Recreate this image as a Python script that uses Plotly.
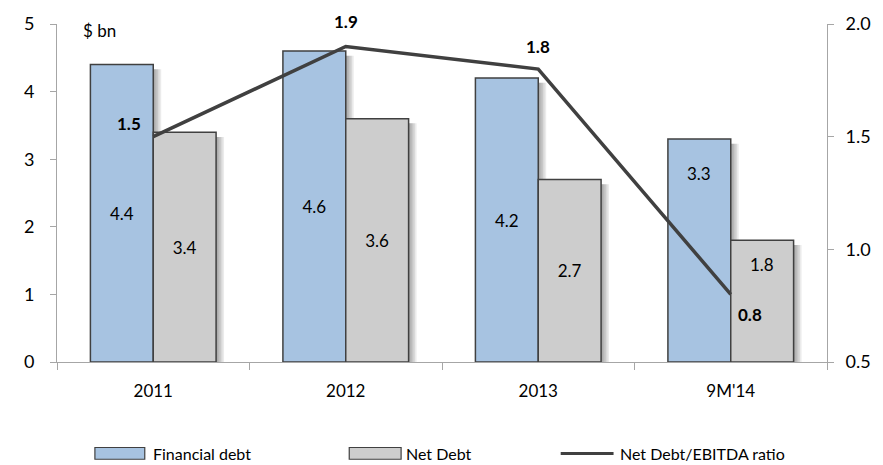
import plotly.graph_objects as go

# Debt figures ($ bn) and leverage ratio by period
periods = ["2011", "2012", "2013", "9M'14"]
financial_debt = [4.4, 4.6, 4.2, 3.3]
net_debt = [3.4, 3.6, 2.7, 1.8]
net_debt_ebitda = [1.5, 1.9, 1.8, 0.8]

left_ticks = [0, 1, 2, 3, 4, 5]
right_ticks = [0.5, 1.0, 1.5, 2.0]

FONT = "Lato, Open Sans, sans-serif"
OUTLINE = "#404040"
BLUE = "#a7c3e1"
GREY = "#cdcdcd"

# numeric positions for the periods; labels come from `periods`
pos = list(range(len(periods)))
boundaries = [p - 0.5 for p in pos] + [pos[-1] + 0.5]

# plot-area geometry (px) used for pixel offsets
PLOT_W = 883 - 57 - 54
PLOT_H = 465 - 18 - 103
CAT_PX = PLOT_W / len(periods)
BAR_W = 63 / CAT_PX          # bar width in period units

fig = go.Figure()

# soft drop shadow behind each bar
for k in range(1, 6):
    dx = (1.6 * k) / CAT_PX
    for vals, off in ((financial_debt, -BAR_W), (net_debt, 0.0)):
        fig.add_trace(go.Bar(
            x=pos, y=[v - 0.07 for v in vals],
            width=BAR_W, offset=off + dx,
            marker=dict(color="rgba(0,0,0,0.08)", line=dict(width=0)),
            showlegend=False, hoverinfo="skip",
        ))

bar_text_fin = [f"{v:.1f}" for v in financial_debt[:-1]] + [""]
bar_text_net = [f"{v:.1f}" for v in net_debt[:-1]] + [""]

fig.add_trace(go.Bar(
    x=pos, y=financial_debt, name="Financial debt",
    width=BAR_W, offset=-BAR_W,
    marker=dict(color=BLUE, line=dict(color=OUTLINE, width=1.5)),
    text=bar_text_fin, textposition="inside", insidetextanchor="middle",
    textfont=dict(size=17, color="#000000", family=FONT),
    showlegend=False,
))
fig.add_trace(go.Bar(
    x=pos, y=net_debt, name="Net Debt",
    width=BAR_W, offset=0.0,
    marker=dict(color=GREY, line=dict(color=OUTLINE, width=1.5)),
    text=bar_text_net, textposition="inside", insidetextanchor="middle",
    textfont=dict(size=17, color="#000000", family=FONT),
    showlegend=False,
))
fig.add_trace(go.Scatter(
    x=pos, y=net_debt_ebitda, name="Net Debt/EBITDA ratio",
    yaxis="y2", mode="lines",
    line=dict(color=OUTLINE, width=3.5),
    showlegend=False,
))


def px_x(px):
    return (px - 57) / PLOT_W


def px_y(py):
    return (465 - 103 - py) / PLOT_H


annotations = [dict(
    text="$ bn", x=px_x(81), y=px_y(25), xref="paper", yref="paper",
    xanchor="left", yanchor="middle", showarrow=False,
    font=dict(size=17, color="#000000"),
)]

# value labels for the last period sit near the top of their bars
half = 63 / 2
annotations.append(dict(
    x=pos[-1], y=financial_debt[-1], xref="x", yref="y",
    text=f"{financial_debt[-1]:.1f}", showarrow=False,
    xshift=-half, yshift=-35, font=dict(size=17, color="#000000"),
))
annotations.append(dict(
    x=pos[-1], y=net_debt[-1], xref="x", yref="y",
    text=f"{net_debt[-1]:.1f}", showarrow=False,
    xshift=half, yshift=-24, font=dict(size=17, color="#000000"),
))

# bold ratio labels next to the line vertices
ratio_shifts = [(-24, 13), (0, 25), (0, 23), (19, -20)]
for p, v, (sx, sy) in zip(pos, net_debt_ebitda, ratio_shifts):
    annotations.append(dict(
        x=p, y=v, xref="x", yref="y2", text=f"<b>{v:.1f}</b>",
        showarrow=False, xshift=sx, yshift=sy,
        font=dict(size=17, color="#000000"),
    ))

# legend drawn below the axis: swatch + label
shapes = []
legend_items = [
    ("rect", BLUE, 95, 145, "Financial debt", 151),
    ("rect", GREY, 350, 402, "Net Debt", 405),
    ("line", OUTLINE, 562, 615, "Net Debt/EBITDA ratio", 619),
]
LEG_Y = 455
for kind, col, x0, x1, label, tx in legend_items:
    if kind == "rect":
        shapes.append(dict(
            type="rect", xref="paper", yref="paper",
            x0=px_x(x0), x1=px_x(x1), y0=px_y(LEG_Y + 6), y1=px_y(LEG_Y - 6),
            fillcolor=col, line=dict(color=OUTLINE, width=1.2),
        ))
    else:
        shapes.append(dict(
            type="line", xref="paper", yref="paper",
            x0=px_x(x0), x1=px_x(x1), y0=px_y(LEG_Y), y1=px_y(LEG_Y),
            line=dict(color=col, width=3),
        ))
    annotations.append(dict(
        text=label, xref="paper", yref="paper",
        x=px_x(tx), y=px_y(LEG_Y),
        xanchor="left", yanchor="middle", showarrow=False,
        font=dict(size=16, color="#000000"),
    ))

fig.update_layout(
    width=883, height=465,
    margin=dict(l=57, r=54, t=18, b=103),
    paper_bgcolor="white", plot_bgcolor="white",
    font=dict(family=FONT, size=17, color="#000000"),
    barmode="overlay",
    showlegend=False,
    xaxis=dict(
        range=[boundaries[0], boundaries[-1]],
        tickvals=pos, ticktext=periods, ticks="",
        showgrid=False, zeroline=False,
        showline=True, linecolor="#a6a6a6", linewidth=1,
        tickfont=dict(size=17), ticklabelstandoff=14,
        minor=dict(tickvals=boundaries, ticks="outside", ticklen=7,
                   tickcolor="#a6a6a6", showgrid=False),
    ),
    yaxis=dict(
        range=[0, 5], tickvals=left_ticks, showgrid=False, zeroline=False,
        showline=True, linecolor="#a6a6a6", linewidth=1,
        ticks="outside", ticklen=6, tickcolor="#a6a6a6",
        tickfont=dict(size=18), ticklabelstandoff=12,
    ),
    yaxis2=dict(
        range=[0.5, 2.0], tickvals=right_ticks, tickformat=".1f",
        overlaying="y", side="right", showgrid=False, zeroline=False,
        showline=True, linecolor="#a6a6a6", linewidth=1,
        ticks="outside", ticklen=6, tickcolor="#a6a6a6",
        tickfont=dict(size=18), ticklabelstandoff=8,
    ),
    annotations=annotations,
    shapes=shapes,
)

fig.write_html("out.html")
